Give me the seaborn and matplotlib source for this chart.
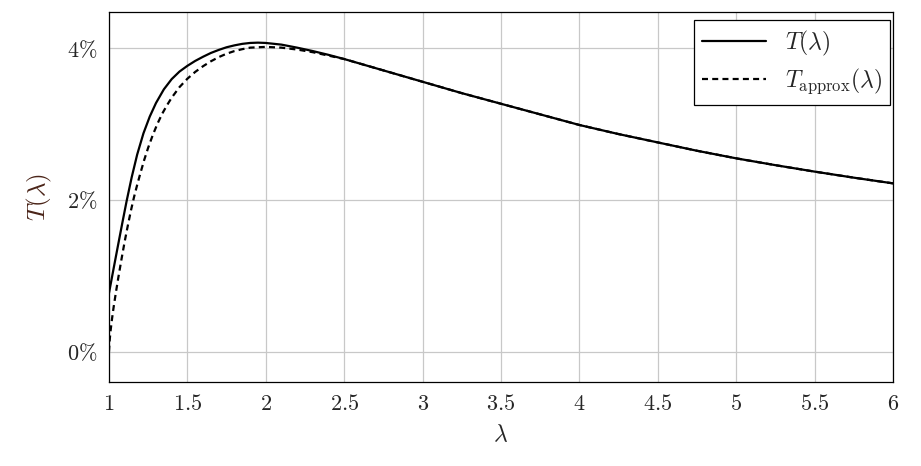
"""
Transmission curve T(lambda) and its approximation.
"""

import matplotlib
matplotlib.use("Agg")
import matplotlib.pyplot as plt
import seaborn as sns
import pandas as pd
from matplotlib.ticker import FuncFormatter

# values (y in percent)
lam_exact = [1.0, 1.03, 1.059, 1.085, 1.113, 1.145, 1.18, 1.22, 1.26, 1.30, 1.35, 1.40,
             1.45, 1.5, 1.55, 1.6, 1.65, 1.7, 1.75, 1.8, 1.85, 1.9, 1.95, 2.0, 2.1,
             2.2, 2.3, 2.4, 2.5, 2.6, 2.75, 3.0, 3.25, 3.5, 3.75, 4.0, 4.25, 4.5,
             4.75, 5.0, 5.25, 5.5, 5.75, 6.0]
t_exact = [0.77, 1.10, 1.415, 1.695, 1.99, 2.30, 2.60, 2.88, 3.10, 3.28, 3.46, 3.595,
           3.695, 3.77, 3.835, 3.89, 3.94, 3.98, 4.015, 4.04, 4.06, 4.072, 4.076, 4.072, 4.05,
           4.01, 3.965, 3.915, 3.86, 3.80, 3.71, 3.56, 3.41, 3.27, 3.13, 2.99, 2.87, 2.76,
           2.65, 2.55, 2.46, 2.375, 2.295, 2.22]

lam_approx = [1.0, 1.005, 1.01, 1.02, 1.03, 1.045, 1.06, 1.08, 1.1, 1.12, 1.14, 1.16,
              1.18, 1.2, 1.225, 1.25, 1.28, 1.31, 1.34, 1.37, 1.40, 1.45, 1.5, 1.55,
              1.6, 1.65, 1.7, 1.75, 1.8, 1.85, 1.9, 2.0, 2.1, 2.2, 2.3, 2.4, 2.5, 2.6,
              2.75, 3.0, 3.25, 3.5, 3.75, 4.0, 4.25, 4.5, 4.75, 5.0, 5.25, 5.5, 5.75, 6.0]
t_approx = [0.0, 0.16, 0.27, 0.44, 0.59, 0.79, 0.98, 1.22, 1.45, 1.66, 1.86, 2.04,
            2.20, 2.35, 2.53, 2.69, 2.86, 3.01, 3.14, 3.25, 3.35, 3.49, 3.60, 3.69,
            3.765, 3.83, 3.885, 3.93, 3.965, 3.99, 4.01, 4.02, 4.01, 3.985, 3.95, 3.905, 3.86, 3.80,
            3.71, 3.56, 3.41, 3.27, 3.13, 2.99, 2.87, 2.76, 2.65, 2.55, 2.46, 2.375, 2.295, 2.22]

x_ticks = [1, 1.5, 2, 2.5, 3, 3.5, 4, 4.5, 5, 5.5, 6]
y_ticks = [0, 2, 4]

sns.set_style("white")
plt.rcParams["mathtext.fontset"] = "cm"
plt.rcParams["font.family"] = ["serif"]
plt.rcParams["font.serif"] = ["DejaVu Serif"]

df_exact = pd.DataFrame({"lam": lam_exact, "T": t_exact})
df_approx = pd.DataFrame({"lam": lam_approx, "T": t_approx})

fig = plt.figure(figsize=(9.21, 4.66), dpi=100)
ax = fig.add_axes([0.1183, 0.1803, 0.8513, 0.7939])

sns.lineplot(data=df_exact, x="lam", y="T", ax=ax, color="black", linewidth=1.6,
             label=r"$T(\lambda)$", sort=False)
sns.lineplot(data=df_approx, x="lam", y="T", ax=ax, color="black", linewidth=1.6,
             linestyle=(0, (2.7, 1.9)), label=r"$T_{\mathrm{approx}}(\lambda)$", sort=False)

ax.set_xlim(1, 6)
ax.set_ylim(-0.4, 4.48)
ax.set_xticks(x_ticks)
ax.set_yticks(y_ticks)
ax.xaxis.set_major_formatter(FuncFormatter(lambda v, p: "$%g$" % v))
ax.yaxis.set_major_formatter(FuncFormatter(lambda v, p: r"$%g\%%$" % v))
ax.tick_params(axis="both", direction="in", length=4, width=0.8, color="#888888",
               labelsize=16, pad=8)
ax.grid(True, color="#c8c8c8", linewidth=0.9)
ax.set_axisbelow(True)
for s in ax.spines.values():
    s.set_color("black")
    s.set_linewidth(0.9)

ax.set_xlabel(r"$\lambda$", fontsize=17, labelpad=6)
ax.set_ylabel(r"$T(\lambda)$", fontsize=18, color="#4a2418", labelpad=10)

leg = ax.legend(loc="upper right", bbox_to_anchor=(0.9962, 0.978), borderaxespad=0,
                fontsize=17, frameon=True, fancybox=False, framealpha=1,
                edgecolor="black", borderpad=0.35, handlelength=2.7, labelspacing=0.4)
leg.get_frame().set_linewidth(0.9)

plt.savefig("out.png", dpi=100)
plt.close()
